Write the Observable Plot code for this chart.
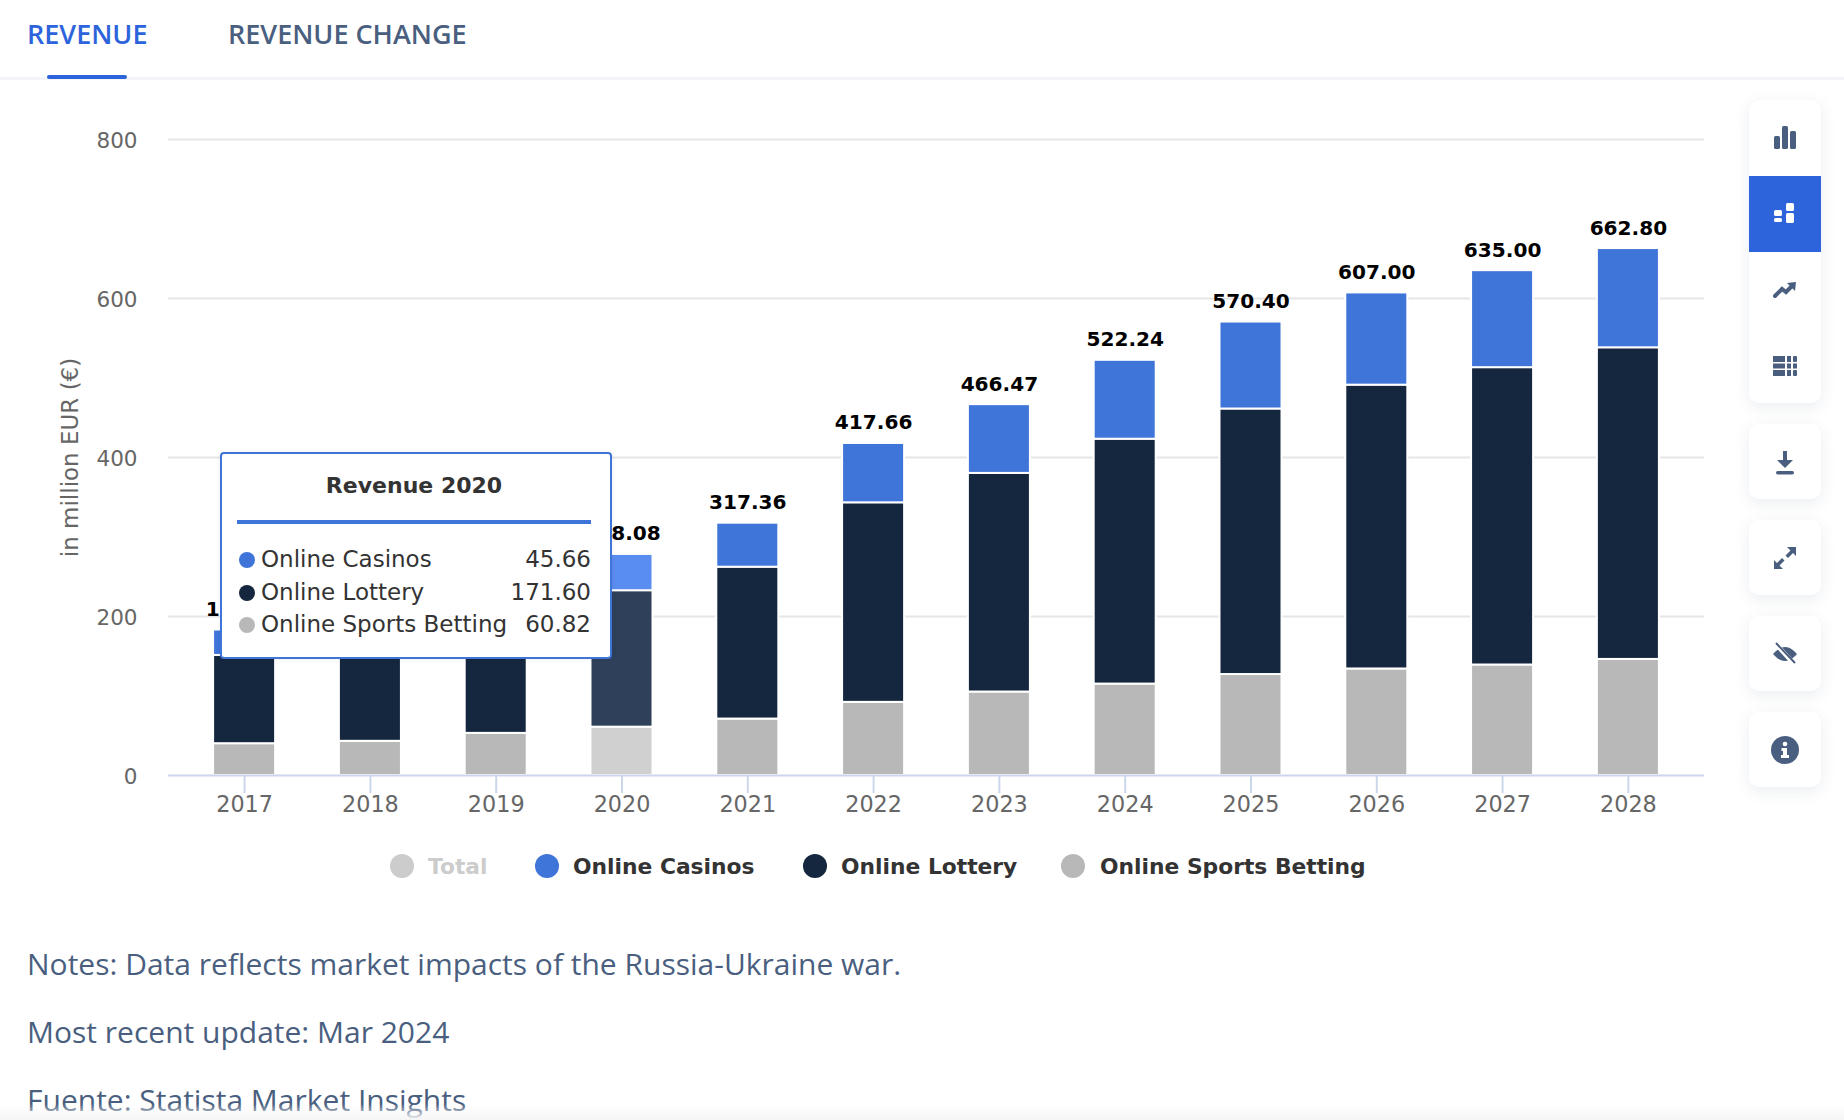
<!DOCTYPE html>
<html>
<head>
<meta charset="utf-8">
<script src="https://cdn.jsdelivr.net/npm/d3@7"></script>
<script src="https://cdn.jsdelivr.net/npm/@observablehq/plot@0.6"></script>
<style>
html,body{margin:0;padding:0;background:#fff;overflow:hidden}
#page{position:relative;width:1844px;height:1120px;overflow:hidden;background:#fff}
#chart{position:absolute;left:0;top:0}
#chart svg{display:block;overflow:visible}
.tab{position:absolute;top:16px;font:600 27px "Open Sans";line-height:36px;white-space:nowrap}
#sep{position:absolute;left:0;top:77px;width:1844px;height:3px;background:#f4f5f9}
#under{position:absolute;left:47px;top:75px;width:80px;height:4px;border-radius:2px;background:#2d64db}
.leg{position:absolute;top:854px;height:24px;display:flex;align-items:center;font:bold 21.8px "DejaVu Sans";color:#333;white-space:nowrap}
.dot{position:absolute;width:24px;height:24px;border-radius:50%;top:854px}
.note{position:absolute;left:27px;font:400 30px "Open Sans";color:#4a5f80;white-space:nowrap;line-height:40px}
#tip{position:absolute;left:220px;top:452px;width:388px;height:203px;background:#fff;border:2px solid #3f74d9;border-radius:4px;box-shadow:0 0 4px rgba(0,0,0,.08)}
#tipTitle{position:absolute;left:0;right:0;top:18px;text-align:center;font:bold 22px "DejaVu Sans";color:#333;line-height:28px;padding-right:4px}
#tipLine{position:absolute;left:15px;top:66px;width:354px;height:4px;background:#3f74d9}
.row{position:absolute;font:23px "DejaVu Sans";color:#333;line-height:28px;white-space:nowrap}
.btn{position:absolute;left:1749px;width:72px;background:#fff;box-shadow:0 4px 16px rgba(60,80,120,.10);border-radius:10px}
.ic{position:absolute;width:24px;height:24px;left:1773px}
#fade{position:absolute;left:0;top:1104px;width:1844px;height:16px;background:linear-gradient(#fff0,#f6f6f7)}
</style>
</head>
<body>
<div id="page"><div id="chart"></div></div>
<script>
const years = ["2017","2018","2019","2020","2021","2022","2023","2024","2025","2026","2027","2028"];
const totals = [183.00,205.00,240.00,278.08,317.36,417.66,466.47,522.24,570.40,607.00,635.00,662.80];
const onlineSportsBetting = [40,43,53,60.82,71,92,105,115,127,134,139,146];
const onlineLottery = [111,125,145,171.60,191,251,275,308,334,357,374,392];
const onlineCasinos = [32,37,42,45.66,55.36,74.66,86.47,99.24,109.40,116,122,124.80];
const yTicks = [0,200,400,600,800];
const seriesNames = ["Online Sports Betting","Online Lottery","Online Casinos"];
const seriesValues = [onlineSportsBetting,onlineLottery,onlineCasinos];
const seriesColors = ["#b8b8b8","#15263f","#3f74d9"];
const hoverColors = ["#d0d0d0","#2e405a","#5a8df0"];
const hoverYear = "2020";
const notes = ["Notes: Data reflects market impacts of the Russia-Ukraine war.","Most recent update: Mar 2024","Fuente: Statista Market Insights"];

const rows = seriesNames.flatMap((s,i)=>years.map((y,j)=>({year:y,series:s,value:seriesValues[i][j],
  color:(y===hoverYear?hoverColors:seriesColors)[i]})));
const totalRows = years.map((y,j)=>({year:y,total:totals[j]}));
const uiFont = '"DejaVu Sans"';

const plot = Plot.plot({
  width:1844, height:820,
  marginLeft:168, marginRight:140, marginTop:139, marginBottom:45,
  style:{background:"transparent",fontFamily:uiFont,overflow:"visible"},
  x:{domain:years,paddingInner:0.507,paddingOuter:0.3585,round:false},
  y:{domain:[0,800]},
  color:{type:"identity"},
  marks:[
    Plot.ruleY(yTicks.filter(t=>t>0),{stroke:"#e6e6e6",strokeWidth:2}),
    Plot.axisY({ticks:yTicks,tickSize:0,tickPadding:31,fontSize:21.5,fill:"#666",dy:1.5,
      label:"in million EUR (€)",labelAnchor:"center",labelArrow:"none",labelOffset:107}),
    Plot.barY(rows,{x:"year",y:"value",z:"series",fill:"color",stroke:"#fff",strokeWidth:2}),
    Plot.ruleY([0],{stroke:"#ccd6eb",strokeWidth:2}),
    Plot.axisX({tickSize:18,tickPadding:3,fontSize:22.3,stroke:"#ccd6eb",strokeWidth:2,fill:"#666",label:null}),
    Plot.text(totalRows,{x:"year",y:"total",text:d=>d.total.toFixed(2),dy:-14,lineAnchor:"bottom",
      fontSize:20.1,fontWeight:"bold",fill:"#000",fontFamily:uiFont})
  ]
});
const page = document.getElementById("page");
document.getElementById("chart").appendChild(plot);
plot.querySelectorAll('[aria-label="y-axis label"] text').forEach(t=>{t.style.fontSize="23px";t.setAttribute("fill","#666");t.setAttribute("dy","0")});
plot.querySelectorAll('[aria-label="x-axis tick label"] text,[aria-label="y-axis tick label"] text').forEach(t=>t.setAttribute("fill","#666"));

function el(cls,style,html,id){const e=document.createElement("div");if(cls)e.className=cls;if(id)e.id=id;
  Object.assign(e.style,style||{});if(html!=null)e.innerHTML=html;return e;}
const add=(...a)=>{const e=el(...a);page.appendChild(e);return e;};

add("",{},null,"sep");
add("",{},null,"under");
add("tab",{color:"#2d64db",left:"27px"},"REVENUE");
add("tab",{color:"#4a5f80",left:"228px"},"REVENUE CHANGE");

const legendItems = [["Total","#cccccc",390,428,"#cccccc"],["Online Casinos","#3f74d9",535,573,"#333"],
  ["Online Lottery","#15263f",803,841,"#333"],["Online Sports Betting","#b8b8b8",1061,1100,"#333"]];
legendItems.forEach(([n,c,dx,tx,tc])=>{
  add("dot",{left:dx+"px",background:c});
  add("leg",{left:tx+"px",color:tc},n);
});
notes.forEach((n,i)=>add("note",{top:(944+i*68)+"px"},n));

const tip=add("",{},null,"tip");
tip.innerHTML='<div id="tipTitle">Revenue '+hoverYear+'</div><div id="tipLine"></div>';
const h=years.indexOf(hoverYear);
[2,1,0].forEach((i,r)=>{
  const top=91+r*32.5;
  tip.appendChild(el("",{position:"absolute",left:"17px",top:(top+7)+"px",width:"16px",height:"16px",borderRadius:"50%",background:seriesColors[i]}));
  tip.appendChild(el("row",{left:"39px",top:top+"px"},seriesNames[i]));
  tip.appendChild(el("row",{right:"19px",top:top+"px"},seriesValues[i][h].toFixed(2)));
});

add("btn",{top:"100px",height:"303px"});
add("",{position:"absolute",left:"1749px",top:"176px",width:"72px",height:"76px",background:"#2d64db"});
[424,520,616,712].forEach(t=>add("btn",{top:t+"px",height:"75px"}));
const ink="#4a5f80";
const icons=[
 [126,`<rect x="1" y="10" width="6" height="13" rx="1.5"/><rect x="9" y="0" width="6" height="23" rx="1.5"/><rect x="17" y="5" width="6" height="18" rx="1.5"/>`,ink],
 [202,`<rect x="1" y="8" width="8" height="6" rx="1.5"/><rect x="1" y="16" width="8" height="4" rx="1.5"/><rect x="13" y="1" width="8" height="8" rx="1.5"/><rect x="13" y="11" width="8" height="10" rx="1.5"/>`,"#fff"],
 [277,`<path d="M2 19 L9 12 L13 15 L18 10" fill="none" stroke="${ink}" stroke-width="4" stroke-linecap="round"/><path d="M14 6 L23 5 L22 14 Z"/>`,ink],
 [354,`<rect x="0" y="2" width="12" height="6"/><rect x="14" y="2" width="4" height="6"/><rect x="20" y="2" width="4" height="6" rx="1"/><rect x="0" y="9.5" width="12" height="5"/><rect x="14" y="9.5" width="4" height="5"/><rect x="20" y="9.5" width="4" height="5"/><rect x="0" y="16" width="12" height="6"/><rect x="14" y="16" width="4" height="6"/><rect x="20" y="16" width="4" height="6" rx="1"/>`,ink],
 [451,`<path d="M10 0 h4 v9 h6 L12 17 L4 9 h6 Z"/><rect x="3" y="20" width="18" height="3.5" rx="1.7"/>`,ink],
 [546,`<path d="M14 1 L23 1 L23 10 L20 7 L15 12 L12.5 9.5 L17.5 4.5 Z"/><path d="M10 23 L1 23 L1 14 L4 17 L9 12 L11.5 14.5 L6.5 19.5 Z"/>`,ink],
 [642,`<path d="M12 5 C18 5 22 10 24 12 C22 14 18 19 12 19 C6 19 2 14 0 12 C2 10 6 5 12 5 Z"/><path d="M2 1 L22 23" stroke="#fff" stroke-width="4.5"/><path d="M3 1 L22 21" stroke="${ink}" stroke-width="2"/>`,ink],
 [738,`<circle cx="12" cy="12" r="14"/><circle cx="12" cy="6" r="2.3" fill="#fff"/><path d="M8.5 10 h5.5 v7 h2 v3 h-8 v-3 h2 v-4 h-1.5 Z" fill="#fff"/>`,ink]
];
icons.forEach(([t,p,c])=>{
  const d=el("ic",{top:t+"px",fill:c});
  d.innerHTML=`<svg width="24" height="24" viewBox="0 0 24 24" style="overflow:visible" fill="${c}">${p}</svg>`;
  page.appendChild(d);
});
add("",{},null,"fade");
</script>
</body>
</html>
